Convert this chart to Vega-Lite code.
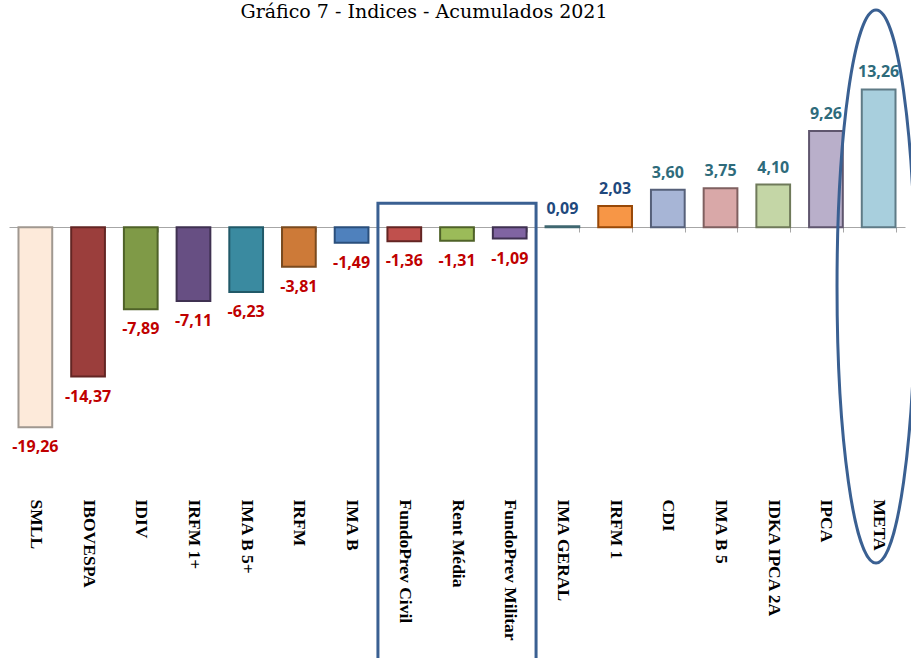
{
  "$schema": "https://vega.github.io/schema/vega-lite/v6.json",
  "autosize": {"type": "none"},
  "width": 896,
  "height": 400,
  "padding": {"left": 9, "top": 35, "right": 6, "bottom": 223},
  "background": "white",
  "config": {
    "view": {"stroke": null},
    "locale": {"number": {"decimal": ",", "thousands": ".", "grouping": [3], "currency": ["R$", ""], "minus": "-"}}
  },
  "title": {
    "text": "Gráfico 7 - Indices - Acumulados 2021",
    "font": "DejaVu Serif",
    "fontSize": 19,
    "fontWeight": "normal",
    "color": "#000000",
    "anchor": "middle",
    "frame": "group",
    "offset": 0,
    "dy": 18,
    "dx": -33
  },
  "datasets": {
    "indices": [
      {"indice": "SMLL", "valor": -19.26},
      {"indice": "IBOVESPA", "valor": -14.37},
      {"indice": "IDIV", "valor": -7.89},
      {"indice": "IRFM 1+", "valor": -7.11},
      {"indice": "IMA B 5+", "valor": -6.23},
      {"indice": "IRFM", "valor": -3.81},
      {"indice": "IMA B", "valor": -1.49},
      {"indice": "FundoPrev Civil", "valor": -1.36},
      {"indice": "Rent Média", "valor": -1.31},
      {"indice": "FundoPrev Militar", "valor": -1.09},
      {"indice": "IMA GERAL", "valor": 0.09},
      {"indice": "IRFM 1", "valor": 2.03},
      {"indice": "CDI", "valor": 3.60},
      {"indice": "IMA B 5", "valor": 3.75},
      {"indice": "IDKA IPCA 2A", "valor": 4.10},
      {"indice": "IPCA", "valor": 9.26},
      {"indice": "META", "valor": 13.26}
    ],
    "caixa": [{"x0": 7, "x1": 10, "ytop": 2.3, "ybot": -45}],
    "elipse": [{"xc": 16.45, "yc": -5.71}]
  },
  "resolve": {"scale": {"x": "independent"}},
  "layer": [
    {
      "data": {"name": "indices"},
      "encoding": {
        "x": {
          "field": "indice", "type": "nominal", "sort": null,
          "scale": {"paddingInner": 0.36, "paddingOuter": 0.18},
          "axis": {
            "title": null,
            "orient": "bottom",
            "offset": -208,
            "domainColor": "#A6A6A6",
            "domainWidth": 1,
            "tickColor": "#A6A6A6",
            "tickSize": 5,
            "tickBand": "extent",
            "labelAngle": 90,
            "labelPadding": 267,
            "labelFont": "Liberation Serif",
            "labelFontSize": 17.5,
            "labelFontWeight": "bold",
            "labelColor": "#000000",
            "labelLimit": 300
          }
        },
        "y": {
          "field": "valor", "type": "quantitative",
          "scale": {"domain": [-20, 18.5], "nice": false, "zero": false},
          "axis": null
        }
      },
      "layer": [
        {
          "mark": {"type": "bar", "strokeWidth": 2},
          "encoding": {
            "fill": {
              "field": "indice", "type": "nominal", "legend": null,
              "scale": {
                "domain": ["SMLL", "IBOVESPA", "IDIV", "IRFM 1+", "IMA B 5+", "IRFM", "IMA B", "FundoPrev Civil", "Rent Média", "FundoPrev Militar", "IMA GERAL", "IRFM 1", "CDI", "IMA B 5", "IDKA IPCA 2A", "IPCA", "META"],
                "range": ["#FDEADA", "#9B3E3C", "#7F9A47", "#674F83", "#3A8AA0", "#CD7A38", "#4F81BD", "#C0504D", "#9BBB59", "#8064A2", "#5D8A92", "#F79646", "#A7B5D6", "#D9A8A8", "#C4D6A6", "#B9AFCA", "#A8CFDD"]
              }
            },
            "stroke": {
              "field": "indice", "type": "nominal", "legend": null,
              "scale": {
                "domain": ["SMLL", "IBOVESPA", "IDIV", "IRFM 1+", "IMA B 5+", "IRFM", "IMA B", "FundoPrev Civil", "Rent Média", "FundoPrev Militar", "IMA GERAL", "IRFM 1", "CDI", "IMA B 5", "IDKA IPCA 2A", "IPCA", "META"],
                "range": ["#A09890", "#632523", "#4F6228", "#3F3151", "#215968", "#7A4A1E", "#2A4F7C", "#632523", "#4F6228", "#3F3151", "#3F6770", "#984807", "#566079", "#7F6060", "#6F7A5A", "#5F566E", "#5F7B86"]
              }
            }
          }
        },
        {
          "transform": [{"filter": "datum.valor >= 0"}],
          "mark": {"type": "text", "font": "Open Sans", "fontSize": 16, "fontWeight": "bold", "baseline": "middle", "dy": -17},
          "encoding": {
            "text": {"field": "valor", "type": "quantitative", "format": ".2f"},
            "color": {"condition": {"test": "datum.valor < 2.5", "value": "#1F497D"}, "value": "#2E6B7B"}
          }
        },
        {
          "transform": [{"filter": "datum.valor < 0"}],
          "mark": {"type": "text", "font": "Open Sans", "fontSize": 16, "fontWeight": "bold", "baseline": "middle", "dy": 20, "color": "#C00000"},
          "encoding": {
            "text": {"field": "valor", "type": "quantitative", "format": ".2f"}
          }
        }
      ]
    },
    {
      "layer": [
        {
          "data": {"name": "caixa"},
          "mark": {"type": "rect", "fill": null, "filled": false, "stroke": "#3A6092", "strokeWidth": 3, "clip": false},
          "encoding": {
            "x": {"field": "x0", "type": "quantitative", "scale": {"domain": [0, 17], "nice": false, "zero": false}, "axis": null},
            "x2": {"field": "x1"},
            "y": {"field": "ytop", "type": "quantitative", "scale": {"domain": [-20, 18.5], "nice": false, "zero": false}, "axis": null},
            "y2": {"field": "ybot"}
          }
        },
        {
          "data": {"name": "elipse"},
          "mark": {
            "type": "point",
            "filled": false,
            "stroke": "#3A6092",
            "strokeWidth": 3,
            "opacity": 1,
            "size": 305809,
            "shape": "M0,-1C0.0779,-1 0.141,-0.5523 0.141,0C0.141,0.5523 0.0779,1 0,1C-0.0779,1 -0.141,0.5523 -0.141,0C-0.141,-0.5523 -0.0779,-1 0,-1Z"
          },
          "encoding": {
            "x": {"field": "xc", "type": "quantitative", "axis": null},
            "y": {"field": "yc", "type": "quantitative", "axis": null}
          }
        }
      ]
    }
  ]
}
